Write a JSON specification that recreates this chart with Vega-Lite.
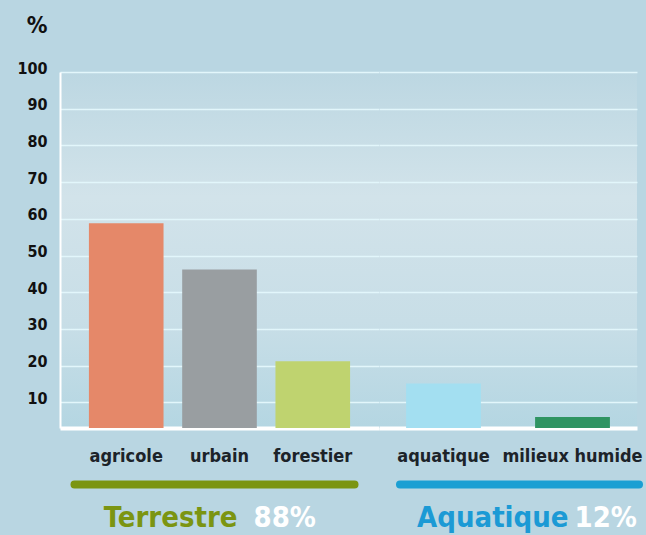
{
  "$schema": "https://vega.github.io/schema/vega-lite/v6.json",
  "background": "#b9d6e2",
  "padding": {"left": 16, "top": 14, "right": 20, "bottom": 20},
  "datasets": {
    "bars": [
      {"category": "agricole", "value": 58.8, "group": "Terrestre"},
      {"category": "urbain", "value": 46.2, "group": "Terrestre"},
      {"category": "forestier", "value": 21.2, "group": "Terrestre"},
      {"category": "aquatique", "value": 15.1, "group": "Aquatique"},
      {"category": "milieux humide", "value": 6.0, "group": "Aquatique"}
    ],
    "groups": [
      {"group": "Terrestre", "share": "88%"},
      {"group": "Aquatique", "share": "12%"}
    ]
  },
  "config": {
    "font": "DejaVu Sans Condensed, DejaVu Sans, sans-serif",
    "view": {"stroke": null, "fill": {"gradient": "linear", "x1": 0, "y1": 0, "x2": 0, "y2": 1, "stops": [{"offset": 0, "color": "#bcd7e2"}, {"offset": 0.35, "color": "#d2e3ea"}, {"offset": 0.7, "color": "#c8dee7"}, {"offset": 1, "color": "#b4d6e2"}]}},
    "concat": {"spacing": 0},
    "axis": {"labelLimit": 0}
  },
  "hconcat": [
    {
      "width": 319,
      "height": 356,
      "layer": [
        {
          "data": {"name": "bars"},
          "transform": [{"filter": "datum.group === 'Terrestre'"}],
          "mark": {"type": "bar"},
          "encoding": {
            "x": {"field": "category", "type": "nominal", "sort": ["agricole", "urbain", "forestier"],
              "scale": {"paddingInner": 0.2, "paddingOuter": 0.31},
              "axis": {"title": null, "orient": "bottom", "domainColor": "#ffffff", "domainWidth": 4, "ticks": false, "tickSize": 0, "labelAngle": 0, "labelPadding": 33, "labelBaseline": "alphabetic", "labelFontSize": 18, "labelFontWeight": "bold", "labelColor": "#1c2329", "grid": false}},
            "y": {"field": "value", "type": "quantitative",
              "scale": {"domain": [3, 100], "nice": false, "zero": false, "clamp": true},
              "axis": {"values": [10, 20, 30, 40, 50, 60, 70, 80, 90, 100], "title": "%", "titleAngle": 0, "titleAlign": "right", "titleBaseline": "middle", "titleAnchor": null, "titleX": -13, "titleY": -47, "titleFontSize": 23, "titleFontWeight": "bold", "titleColor": "#111111", "labelFontSize": 16, "labelFontWeight": "bold", "labelColor": "#111111", "labelPadding": 13, "labelOffset": -4, "ticks": false, "tickSize": 0, "domainColor": "#ffffff", "domainWidth": 2, "gridColor": "#e2f6fb", "gridWidth": 1.5, "gridOpacity": 1}},
            "color": {"field": "category", "type": "nominal",
              "scale": {"domain": ["agricole", "urbain", "forestier", "aquatique", "milieux humide"], "range": ["#e58869", "#999ea1", "#bfd36f", "#a3dff1", "#2f9462"]},
              "legend": null}
          }
        },
        {
          "data": {"name": "groups"},
          "transform": [{"filter": "datum.group === 'Terrestre'"}],
          "mark": {"type": "point", "opacity": 0},
          "encoding": {
            "x": {"field": "group", "type": "nominal",
              "scale": {"range": [14, 294]},
              "axis": {"orient": "bottom", "offset": 56, "title": null, "domainColor": "#7b9512", "domainWidth": 8, "domainCap": "round", "ticks": false, "tickSize": 0, "grid": false, "labelAngle": 0, "labelAlign": "right", "labelOffset": 23, "labelBaseline": "alphabetic", "labelPadding": 42, "labelFontSize": 29, "labelFontWeight": "bold", "labelColor": "#7b9512"}}
          }
        },
        {
          "data": {"name": "groups"},
          "transform": [{"filter": "datum.group === 'Terrestre'"}],
          "mark": {"type": "point", "opacity": 0},
          "encoding": {
            "x": {"field": "share", "type": "nominal",
              "scale": {"range": [14, 294]},
              "axis": {"orient": "bottom", "offset": 56, "title": null, "domain": false, "ticks": false, "tickSize": 0, "grid": false, "labelAngle": 0, "labelAlign": "left", "labelOffset": 39, "labelBaseline": "alphabetic", "labelPadding": 42, "labelFontSize": 29, "labelFontWeight": "bold", "labelColor": "#ffffff"}}
          }
        }
      ],
      "resolve": {"scale": {"x": "independent"}, "axis": {"x": "independent"}}
    },
    {
      "width": 258,
      "height": 356,
      "layer": [
        {
          "data": {"name": "bars"},
          "transform": [{"filter": "datum.group === 'Aquatique'"}],
          "mark": {"type": "bar"},
          "encoding": {
            "x": {"field": "category", "type": "nominal", "sort": ["aquatique", "milieux humide"],
              "scale": {"paddingInner": 0.42, "paddingOuter": 0.21},
              "axis": {"title": null, "orient": "bottom", "domainColor": "#ffffff", "domainWidth": 4, "ticks": false, "tickSize": 0, "labelAngle": 0, "labelPadding": 33, "labelBaseline": "alphabetic", "labelFontSize": 18, "labelFontWeight": "bold", "labelColor": "#1c2329", "grid": false}},
            "y": {"field": "value", "type": "quantitative",
              "scale": {"domain": [3, 100], "nice": false, "zero": false, "clamp": true},
              "axis": {"values": [10, 20, 30, 40, 50, 60, 70, 80, 90, 100], "title": null, "labels": false, "ticks": false, "tickSize": 0, "domain": false, "gridColor": "#e2f6fb", "gridWidth": 1.5, "gridOpacity": 1}},
            "color": {"field": "category", "type": "nominal",
              "scale": {"domain": ["agricole", "urbain", "forestier", "aquatique", "milieux humide"], "range": ["#e58869", "#999ea1", "#bfd36f", "#a3dff1", "#2f9462"]},
              "legend": null}
          }
        },
        {
          "data": {"name": "groups"},
          "transform": [{"filter": "datum.group === 'Aquatique'"}],
          "mark": {"type": "point", "opacity": 0},
          "encoding": {
            "x": {"field": "group", "type": "nominal",
              "scale": {"range": [20.5, 259.5]},
              "axis": {"orient": "bottom", "offset": 56, "title": null, "domainColor": "#1b9fd3", "domainWidth": 8, "domainCap": "round", "ticks": false, "tickSize": 0, "grid": false, "labelAngle": 0, "labelAlign": "right", "labelOffset": 49, "labelBaseline": "alphabetic", "labelPadding": 42, "labelFontSize": 29, "labelFontWeight": "bold", "labelColor": "#1b9ad5"}}
          }
        },
        {
          "data": {"name": "groups"},
          "transform": [{"filter": "datum.group === 'Aquatique'"}],
          "mark": {"type": "point", "opacity": 0},
          "encoding": {
            "x": {"field": "share", "type": "nominal",
              "scale": {"range": [20.5, 259.5]},
              "axis": {"orient": "bottom", "offset": 56, "title": null, "domain": false, "ticks": false, "tickSize": 0, "grid": false, "labelAngle": 0, "labelAlign": "left", "labelOffset": 55, "labelBaseline": "alphabetic", "labelPadding": 42, "labelFontSize": 29, "labelFontWeight": "bold", "labelColor": "#ffffff"}}
          }
        }
      ],
      "resolve": {"scale": {"x": "independent"}, "axis": {"x": "independent"}}
    }
  ],
  "resolve": {"scale": {"color": "shared"}}
}
